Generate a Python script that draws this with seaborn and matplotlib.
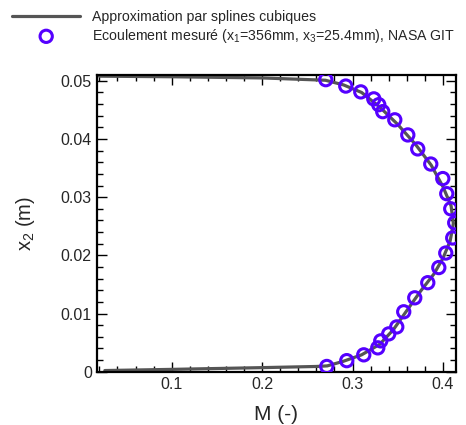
import numpy as np
import pandas as pd
import seaborn as sns
import matplotlib.pyplot as plt
from matplotlib.ticker import MultipleLocator

# Measured points (Mach number, x2 in m)
mach_meas = [0.2704, 0.2925, 0.3091, 0.3235, 0.3290, 0.3334, 0.3467, 0.3611, 0.3721,
             0.3865, 0.3998, 0.4042, 0.4086, 0.4130, 0.4108, 0.4031, 0.3954, 0.3832,
             0.3688, 0.3566, 0.3489, 0.3400, 0.3312, 0.3279, 0.3124, 0.2936, 0.2715]
x2_meas = [0.0502, 0.0491, 0.0481, 0.0469, 0.0459, 0.0447, 0.0433, 0.0407, 0.0383,
           0.0357, 0.0332, 0.0306, 0.0280, 0.0256, 0.0230, 0.0204, 0.0179, 0.0153,
           0.0127, 0.0103, 0.0077, 0.0065, 0.0053, 0.0041, 0.0029, 0.0019, 0.0009]

# Cubic spline approximation
mach_spline = [0.026, 0.10, 0.20, 0.26, 0.272, 0.29, 0.31, 0.33, 0.345, 0.36, 0.375,
               0.39, 0.40, 0.408, 0.4115, 0.409, 0.40, 0.387, 0.37, 0.35, 0.33, 0.31,
               0.29, 0.27, 0.20, 0.10, 0.02]
x2_spline = [0.0002, 0.0004, 0.0007, 0.0009, 0.0010, 0.0018, 0.0029, 0.0047, 0.0072,
             0.0105, 0.0138, 0.0168, 0.0195, 0.0225, 0.0255, 0.0285, 0.0318, 0.0355,
             0.039, 0.0425, 0.0455, 0.048, 0.0493, 0.0501, 0.0505, 0.0507, 0.0508]

x_ticks = [0.1, 0.2, 0.3, 0.4]
x_tick_labels = ["0.1", "0.2", "0.3", "0.4"]
y_ticks = [0, 0.01, 0.02, 0.03, 0.04, 0.05]
y_tick_labels = ["0", "0.01", "0.02", "0.03", "0.04", "0.05"]

sns.set_style("ticks")
plt.rcParams['font.family'] = ['Liberation Sans', 'DejaVu Sans']
plt.rcParams['mathtext.fontset'] = 'custom'
plt.rcParams['mathtext.rm'] = 'Liberation Sans'

df_spline = pd.DataFrame({'M': mach_spline, 'x2': x2_spline})
df_meas = pd.DataFrame({'M': mach_meas, 'x2': x2_meas})

fig = plt.figure(figsize=(4.66, 4.25), dpi=100)
ax = fig.add_axes([0.2075, 0.1254, 0.771, 0.6981])

sns.lineplot(data=df_spline, x='M', y='x2', sort=False, estimator=None, ax=ax,
             color='#555555', linewidth=2.3, label='Approximation par splines cubiques')
sns.scatterplot(data=df_meas, x='M', y='x2', ax=ax, marker='o', s=78,
                facecolors='none', edgecolor='#5500ff', linewidth=2.2, zorder=3,
                label='Ecoulement mesuré (x$_\\mathregular{1}$=356mm, '
                      'x$_\\mathregular{3}$=25.4mm), NASA GIT')

ax.set_xlim(0.017, 0.4144)
ax.set_ylim(0, 0.051)
ax.set_xticks(x_ticks, x_tick_labels)
ax.set_yticks(y_ticks, y_tick_labels)
ax.xaxis.set_minor_locator(MultipleLocator(0.02))
ax.yaxis.set_minor_locator(MultipleLocator(0.002))
ax.tick_params(which='both', direction='in', top=True, right=True, labelsize=11.5,
               width=1.0, color='black')
ax.tick_params(which='major', length=7)
ax.tick_params(which='minor', length=4)
for sp in ax.spines.values():
    sp.set_linewidth(1.6)
    sp.set_color('black')

ax.set_xlabel('M (-)', fontsize=15)
ax.set_ylabel('x$_\\mathregular{2}$ (m)', fontsize=14.5)
ax.xaxis.set_label_coords(0.5, -0.112)
ax.yaxis.set_label_coords(-0.165, 0.5)

ax.legend_.remove()
h, l = ax.get_legend_handles_labels()
fig.legend(h, l, loc='upper left', bbox_to_anchor=(0.014, 0.99), frameon=False,
           fontsize=10.2, handlelength=4.8, handletextpad=0.8, labelspacing=0.22,
           borderaxespad=0.0)

fig.savefig('out.png', dpi=100)
